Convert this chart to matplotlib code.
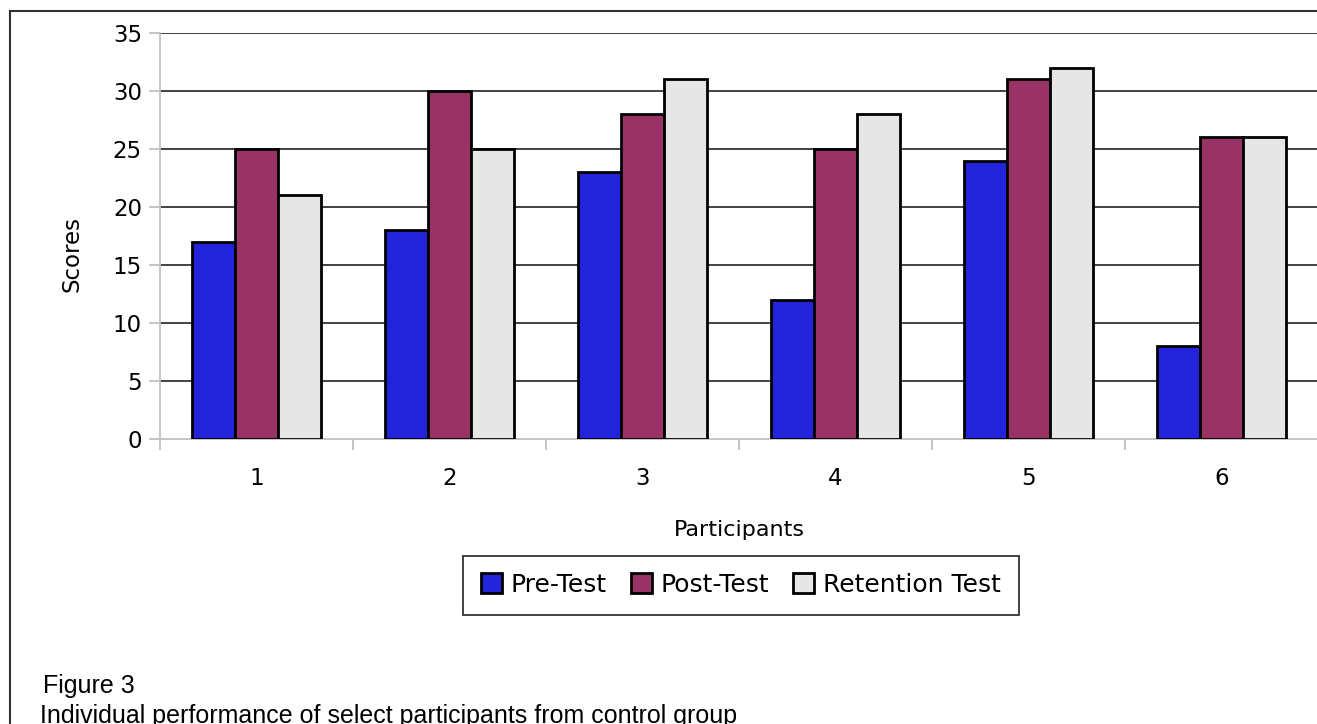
import matplotlib
matplotlib.use("Agg")
import matplotlib.pyplot as plt
import numpy as np
from matplotlib.lines import Line2D

participants = ['1', '2', '3', '4', '5', '6']
pre_test = [17, 18, 23, 12, 24, 8]
post_test = [25, 30, 28, 25, 31, 26]
retention_test = [21, 25, 31, 28, 32, 26]
series_names = ['Pre-Test', 'Post-Test', 'Retention Test']
colors = ['#2323DC', '#993366', '#E6E6E6']
y_ticks = [0, 5, 10, 15, 20, 25, 30, 35]

W, H = 1317, 724
fig = plt.figure(figsize=(W / 100, H / 100), dpi=100)
fig.patch.set_facecolor('white')

ax = fig.add_axes([160 / W, 1 - 439 / H, 1158 / W, 406 / H])
x = np.arange(1, len(participants) + 1)
w = 43 / 193
for i, (vals, c, name) in enumerate(zip([pre_test, post_test, retention_test], colors, series_names)):
    ax.bar(x + (i - 1) * w, vals, w, color=c, edgecolor='black', linewidth=2.0,
           label=name, zorder=3)

ax.set_xlim(0.5, len(participants) + 0.5)
ax.set_ylim(0, 35)
ax.set_yticks(y_ticks)
ax.set_yticklabels([str(t) for t in y_ticks])
ax.yaxis.grid(True, color='#333333', linewidth=1.3, zorder=0)
ax.set_axisbelow(True)
ax.yaxis.get_gridlines()[0].set_visible(False)

for s in ['top', 'right']:
    ax.spines[s].set_visible(False)
for s in ['left', 'bottom']:
    ax.spines[s].set_color('#C0C0C0')
    ax.spines[s].set_linewidth(1.3)

ax.set_xticks(x)
ax.set_xticklabels(participants)
ax.set_xticks(np.arange(0.5, len(participants) + 1, 1), minor=True)
ax.tick_params(axis='x', which='major', length=0, pad=20, labelsize=16.5)
ax.tick_params(axis='x', which='minor', length=8, width=1.3, color='#C0C0C0')
ax.tick_params(axis='y', length=8, width=1.3, color='#C0C0C0', pad=5, labelsize=16.5)

ax.set_xlabel('Participants', fontsize=16, va='center')
ax.xaxis.set_label_coords(0.5, -(530 - 439) / 406)
ax.set_ylabel('Scores', fontsize=16.5, va='center')
ax.yaxis.set_label_coords((72 - 160) / 1158, 1 - (254 - 33) / 406)

leg = fig.legend(loc='center', bbox_to_anchor=(741 / W, 1 - 585 / H), ncol=3,
                 frameon=True, fancybox=False, edgecolor='#333333', fontsize=18,
                 handlelength=0.85, handleheight=0.85, handletextpad=0.35,
                 columnspacing=0.95, borderpad=0.7, framealpha=1)
leg.get_frame().set_linewidth(1.3)

# outer frame (cropped at right and bottom)
fig.add_artist(Line2D([10 / W, 10 / W], [0, 1 - 11 / H], transform=fig.transFigure,
                      color='#333333', linewidth=1.5))
fig.add_artist(Line2D([10 / W, 1], [1 - 11 / H, 1 - 11 / H], transform=fig.transFigure,
                      color='#333333', linewidth=1.5))

fig.text(43 / W, 1 - 693 / H, 'Figure 3', family='Liberation Sans', fontsize=18,
         va='baseline', ha='left')
fig.text(40 / W, 1 - 723 / H, 'Individual performance of select participants from control group',
         family='Liberation Sans', fontsize=18, va='baseline', ha='left')

fig.savefig('out.png', dpi=100)
